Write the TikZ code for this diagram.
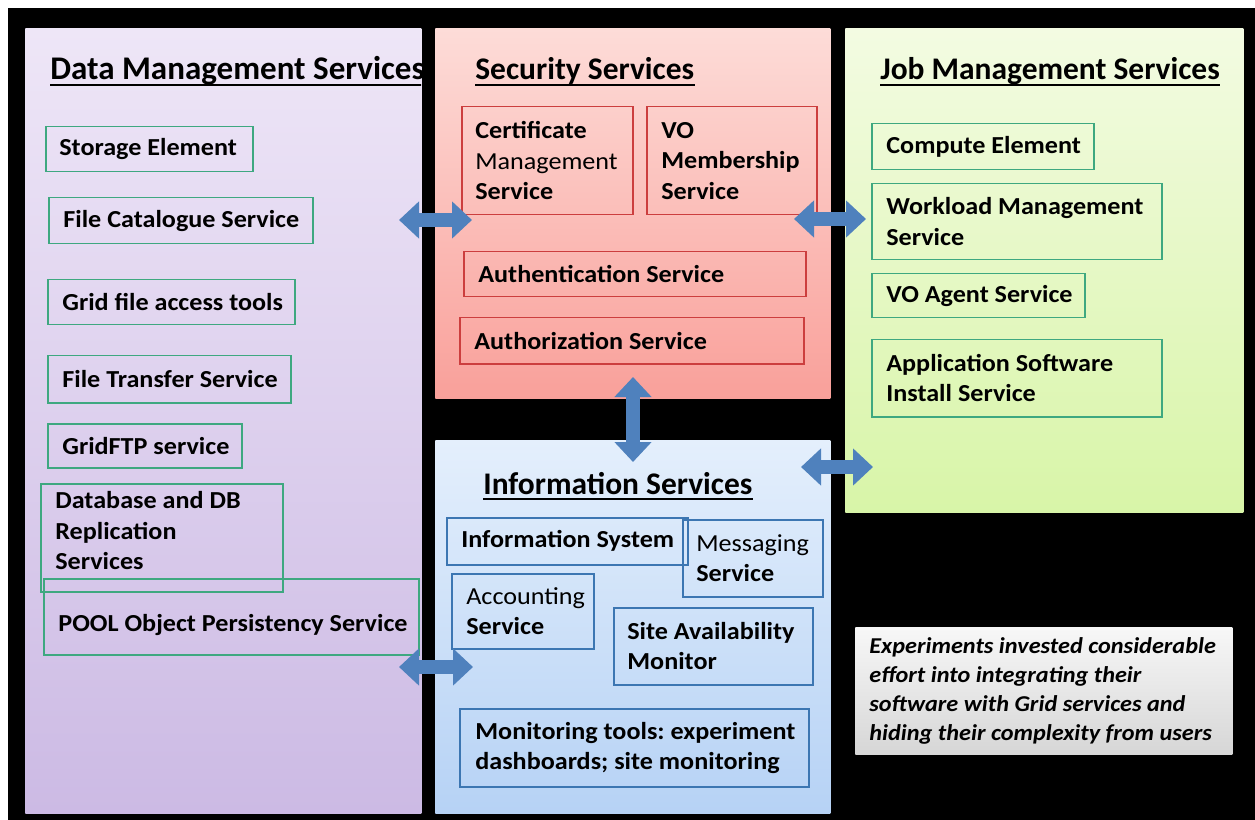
\documentclass[tikz,border=0pt]{standalone}
\usepackage{fontspec}
\setmainfont{Carlito}[FakeStretch=1.07]
\newfontfamily\titlefont{Carlito}
\frenchspacing
\usetikzlibrary{arrows.meta, positioning}

\definecolor{dmgreen}{RGB}{62,168,128}
\definecolor{secred}{RGB}{204,62,62}
\definecolor{infblue}{RGB}{60,118,178}
\definecolor{arrowblue}{RGB}{79,129,189}
\definecolor{dmtop}{RGB}{238,230,247}
\definecolor{dmbot}{RGB}{204,186,228}
\definecolor{sectop}{RGB}{253,220,216}
\definecolor{secbot}{RGB}{249,160,154}
\definecolor{jobtop}{RGB}{243,251,226}
\definecolor{jobbot}{RGB}{216,245,168}
\definecolor{inftop}{RGB}{228,239,252}
\definecolor{infbot}{RGB}{182,210,245}

\begin{document}
\begin{tikzpicture}[x=0.2mm, y=-0.2mm,
  panel/.style={anchor=north west, inner sep=0, rectangle},
  title/.style={anchor=base west, inner sep=0, font=\titlefont\fontsize{17.9}{21}\selectfont\bfseries},
  uline/.style={line width=0.4mm},
  svc/.style={anchor=north west, inner sep=0, rectangle, line width=0.3mm},
  svctext/.style={inner sep=0, align=left, font=\fontsize{13.9}{17.35}\selectfont\bfseries},
  bigarrow/.style={line width=2.8mm, color=arrowblue,
    {Triangle[length=4mm,width=7.2mm]}-{Triangle[length=4mm,width=7.2mm]}}]
  \useasboundingbox (0,0) rectangle (1255,820);
  \fill[black] (8,8) rectangle (1255,820);

  % the four service panels and the note
  \node[panel, minimum width=79.2mm, minimum height=157mm, top color=dmtop, bottom color=dmbot] (dms) at (25,28) {};
  \node[panel, minimum width=79mm, minimum height=74mm, top color=sectop, bottom color=secbot] (sec) at (435,28) {};
  \node[panel, minimum width=79.6mm, minimum height=96.8mm, top color=jobtop, bottom color=jobbot] (job) at (845,28) {};
  \node[panel, minimum width=79mm, minimum height=74.6mm, top color=inftop, bottom color=infbot] (inf) at (435,440) {};
  \node[panel, minimum width=75.4mm, minimum height=25.4mm, top color=gray!6, bottom color=gray!32] (note) at (855,627) {};

  % titles
  \begin{scope}
    \clip (25,28) rectangle (421,813);
    \node[title, font=\titlefont\fontsize{18.8}{21}\selectfont\bfseries] (dms-t) at (50,80) {Data Management Services};
    \draw[uline] ([yshift=-1mm]dms-t.base west) -- ([yshift=-1mm]dms-t.base east);
  \end{scope}
  \node[title] (sec-t) at (475,80) {Security Services};
  \draw[uline] ([yshift=-1mm]sec-t.base west) -- ([yshift=-1mm]sec-t.base east);
  \node[title] (job-t) at (880,80) {Job Management Services};
  \draw[uline] ([yshift=-1mm]job-t.base west) -- ([yshift=-1mm]job-t.base east);
  \node[title] (inf-t) at (483,494) {Information Services};
  \draw[uline] ([yshift=-1mm]inf-t.base west) -- ([yshift=-1mm]inf-t.base east);

  % data management
  \node[svc, draw=dmgreen, minimum width=41.4mm, minimum height=9mm] (se) at (45,126) {};
  \node[svctext, right=2.8mm of se.west] (se-t) {Storage Element};
  \node[svc, draw=dmgreen, minimum width=52.8mm, minimum height=9.2mm] (fcs) at (48,197) {};
  \node[svctext, right=3mm of fcs.west] (fcs-t) {File Catalogue Service};
  \node[svc, draw=dmgreen, minimum width=49.4mm, minimum height=9mm] (gfa) at (47,279) {};
  \node[svctext, right=3mm of gfa.west] (gfa-t) {Grid file access tools};
  \node[svc, draw=dmgreen, minimum width=48.6mm, minimum height=9.4mm] (fts) at (47,355) {};
  \node[svctext, right=3mm of fts.west] (fts-t) {File Transfer Service};
  \node[svc, draw=dmgreen, minimum width=38.8mm, minimum height=8.8mm] (gftp) at (47,423) {};
  \node[svctext, right=3mm of gftp.west] (gftp-t) {GridFTP service};
  \node[svc, draw=dmgreen, minimum width=48.4mm, minimum height=21.6mm] (db) at (40,483) {};
  \node[svctext, right=3mm of db.west, yshift=1.4mm] (db-t) {Database and DB\\Replication\\Services};
  \node[svc, draw=dmgreen, minimum width=75mm, minimum height=15.2mm] (pool) at (43,578) {};
  \node[svctext, right=3mm of pool.west, yshift=-1.6mm] (pool-t) {POOL Object Persistency Service};

  % security
  \node[svc, draw=secred, minimum width=34.2mm, minimum height=21.6mm] (cms) at (461,106) {};
  \node[svctext, right=2.8mm of cms.west] (cms-t) {Certificate\\{\mdseries Management}\\Service};
  \node[svc, draw=secred, minimum width=34mm, minimum height=21.6mm] (vom) at (646,106) {};
  \node[svctext, right=3mm of vom.west] (vom-t) {VO\\Membership\\Service};
  \node[svc, draw=secred, minimum width=68.4mm, minimum height=9mm] (aun) at (463,251) {};
  \node[svctext, right=3mm of aun.west] (aun-t) {Authentication Service};
  \node[svc, draw=secred, minimum width=68.8mm, minimum height=9.2mm] (auz) at (459,317) {};
  \node[svctext, right=3mm of auz.west] (auz-t) {Authorization Service};

  % job management
  \node[svc, draw=dmgreen, minimum width=44.4mm, minimum height=9.2mm] (ce) at (871,123) {};
  \node[svctext, right=3mm of ce.west] (ce-t) {Compute Element};
  \node[svc, draw=dmgreen, minimum width=58mm, minimum height=15.2mm] (wms) at (871,183) {};
  \node[svctext, right=3mm of wms.west] (wms-t) {Workload Management\\Service};
  \node[svc, draw=dmgreen, minimum width=42.6mm, minimum height=8.8mm] (voa) at (871,273) {};
  \node[svctext, right=3mm of voa.west] (voa-t) {VO Agent Service};
  \node[svc, draw=dmgreen, minimum width=58mm, minimum height=15.4mm] (asi) at (871,339) {};
  \node[svctext, right=3mm of asi.west] (asi-t) {Application Software\\Install Service};

  % information
  \node[svc, draw=infblue, minimum width=48.2mm, minimum height=9.4mm] (isys) at (446,517) {};
  \node[svctext, right=3mm of isys.west] (isys-t) {Information System};
  \node[svc, draw=infblue, minimum width=28mm, minimum height=15.4mm] (msg) at (682,519) {};
  \node[svctext, right=2.8mm of msg.west] (msg-t) {{\mdseries Messaging}\\Service};
  \node[svc, draw=infblue, minimum width=28.4mm, minimum height=15mm] (acc) at (451,573) {};
  \node[svctext, right=3mm of acc.west] (acc-t) {{\mdseries Accounting}\\Service};
  \node[svc, draw=infblue, minimum width=39.8mm, minimum height=15.4mm] (sam) at (613,607) {};
  \node[svctext, right=2.8mm of sam.west] (sam-t) {Site Availability\\Monitor};
  \node[svc, draw=infblue, minimum width=69.8mm, minimum height=15.6mm] (mon) at (459,708) {};
  \node[svctext, right=3.2mm of mon.west] (mon-t) {Monitoring tools: experiment\\dashboards; site monitoring};

  % note
  \node[inner sep=0, align=left, right=2.8mm of note.west,
    font=\fontsize{12.9}{16.5}\selectfont\bfseries\itshape] (note-t)
    {Experiments invested considerable\\effort into integrating their\\software with Grid services and\\hiding their complexity from users};

  % block arrows between the panels
  \coordinate (a1l) at (399,220); \coordinate (a1r) at (472,220);
  \coordinate (a2l) at (794,219); \coordinate (a2r) at (866,219);
  \coordinate (a3t) at (633,377); \coordinate (a3b) at (633,462);
  \coordinate (a4l) at (801,467); \coordinate (a4r) at (873,467);
  \coordinate (a5l) at (399,667); \coordinate (a5r) at (473,667);
  \draw[bigarrow] (a1l) -- (a1r);
  \draw[bigarrow] (a2l) -- (a2r);
  \draw[bigarrow] (a3t) -- (a3b);
  \draw[bigarrow] (a4l) -- (a4r);
  \draw[bigarrow] (a5l) -- (a5r);
\end{tikzpicture}
\end{document}
